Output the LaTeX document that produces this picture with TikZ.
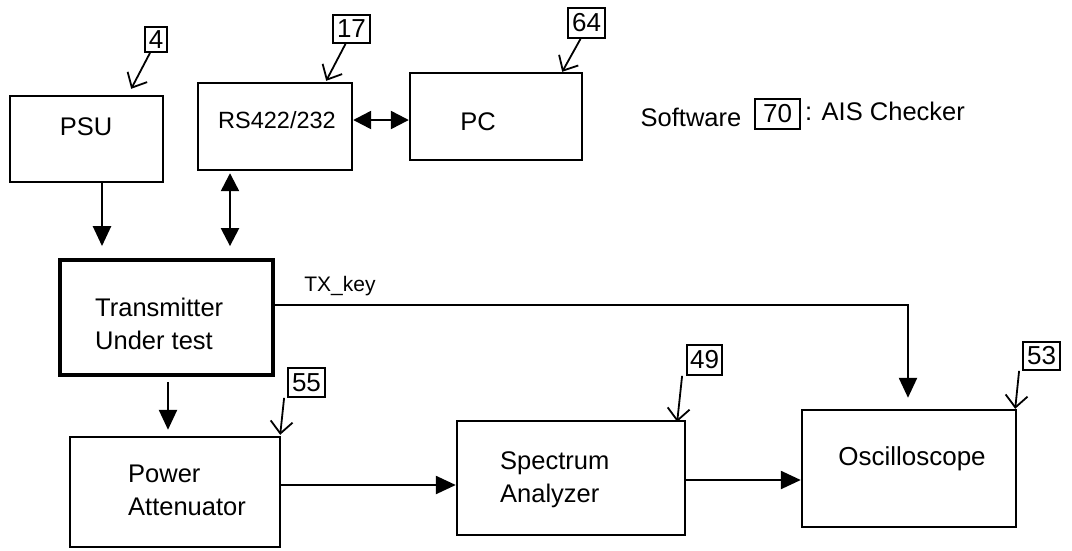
\documentclass[tikz,border=0pt]{standalone}
\usepackage{fontspec}
\setmainfont{Liberation Sans}
\usetikzlibrary{arrows.meta}
\tikzset{
  blk/.style={draw, line width=2.4pt, inner sep=0pt},
  heavy/.style={draw, line width=3.8pt, inner sep=0pt},
  txt/.style={inner sep=0pt, font=\fontsize{25.5}{33}\selectfont},
  tag/.style={draw, line width=1.8pt, inner xsep=1pt, inner ysep=0pt,
    minimum height=28pt, font=\fontsize{26}{26}\selectfont},
  flow/.style={line width=2.4pt, -{Triangle[length=20pt,width=18pt]}},
  both/.style={line width=2.4pt, {Triangle[length=18pt,width=18pt]}-{Triangle[length=18pt,width=18pt]}},
  callout/.style={line width=1.8pt, -{Straight Barb[length=12pt,width=22pt]}}
}
\begin{document}
\begin{tikzpicture}[x=1pt,y=-1pt]
\useasboundingbox (0,0) rectangle (1072,550);

% equipment blocks
\node[blk, minimum width=153pt, minimum height=86pt] (psu) at (86.5,139) {};
\node[blk, minimum width=154pt, minimum height=87pt] (rs) at (275,126.5) {};
\node[blk, minimum width=172pt, minimum height=87pt] (pc) at (496,116.5) {};
\node[heavy, minimum width=213pt, minimum height=115pt] (tx) at (166.5,317.5) {};
\node[blk, minimum width=210pt, minimum height=110pt] (att) at (175,492) {};
\node[blk, minimum width=228pt, minimum height=114pt] (spa) at (571,478) {};
\node[blk, minimum width=214pt, minimum height=117pt] (osc) at (909,468.5) {};

% block captions
\node[txt] (tpsu) at (86,127) {PSU};
\node[txt, font=\fontsize{23.5}{28}\selectfont] (trs) at (277,120) {RS422/232};
\node[txt] (tpc) at (478,122) {PC};
\node[txt, anchor=west, align=left] (ttx) at (95,324) {Transmitter\\Under test};
\node[txt, anchor=west, align=left] (tatt) at (128,490) {Power\\Attenuator};
\node[txt, anchor=west, align=left] (tspa) at (500,480) {Spectrum\\Analyzer};
\node[txt, font=\fontsize{26}{30}\selectfont] (tosc) at (912,459) {Oscilloscope};

% software note
\node[txt] (sw) at (691,117) {Software};
\node[tag, minimum width=45pt, minimum height=30pt] (l70) at (777.5,114) {70};
\node[txt, anchor=west] (ais) at (805,111) {: AIS Checker};

% reference numerals
\node[tag, minimum width=22pt, minimum height=25pt] (l4) at (156,39.5) {4};
\node[tag, minimum width=37pt] (l17) at (351.5,29) {17};
\node[tag, minimum width=37pt, minimum height=30pt] (l64) at (586.5,23) {64};
\node[tag, minimum width=37pt, minimum height=29pt] (l55) at (306.5,382.5) {55};
\node[tag, minimum width=35pt, minimum height=30pt] (l49) at (704.5,360) {49};
\node[tag, minimum width=37pt] (l53) at (1041.5,356) {53};

\draw[callout] ([xshift=-6pt]l4.south) -- ([xshift=-33pt,yshift=6pt]psu.north east);
\draw[callout] ([xshift=-6pt]l17.south) -- ([xshift=-27pt,yshift=1pt]rs.north east);
\draw[callout] ([xshift=-6pt]l64.south) -- ([xshift=-21pt]pc.north east);
\draw[callout] ([xshift=-3pt]l55.south west) -- ([xshift=-1pt,yshift=1pt]att.north east);
\draw[callout] ([xshift=-4pt]l49.south west) -- ([xshift=-9pt,yshift=-2pt]spa.north east);
\draw[callout] ([xshift=-3pt]l53.south west) -- ([xshift=-2pt]osc.north east);

% signal paths
\coordinate (yrp) at (0,120);
\coordinate (ykey) at (0,305);
\coordinate (xkey) at (908,0);
\coordinate (yatt) at (0,485);
\coordinate (yspa) at (0,480);

\draw[flow, shorten >=12pt] ([xshift=15.5pt]psu.south) -- ([xshift=-64.5pt]tx.north);
\draw[both, shorten <=2pt, shorten >=12pt] ([xshift=-45pt]rs.south) -- ([xshift=63.5pt]tx.north);
\draw[both] (rs.east |- yrp) -- (pc.west |- yrp);
\draw[flow, shorten <=5pt, shorten >=6pt] ([xshift=1.5pt]tx.south) -- ([xshift=-7pt]att.north);
\draw[flow] (att.east |- yatt) -- (spa.west |- yatt);
\draw[flow] (spa.east |- yspa) -- (osc.west |- yspa);
\draw[flow, shorten >=11pt] (tx.east |- ykey) -- (xkey |- ykey) -- (osc.north -| xkey);
\node[txt, font=\fontsize{21}{24}\selectfont] (key) at (340,286) {TX\_key};
\end{tikzpicture}
\end{document}
